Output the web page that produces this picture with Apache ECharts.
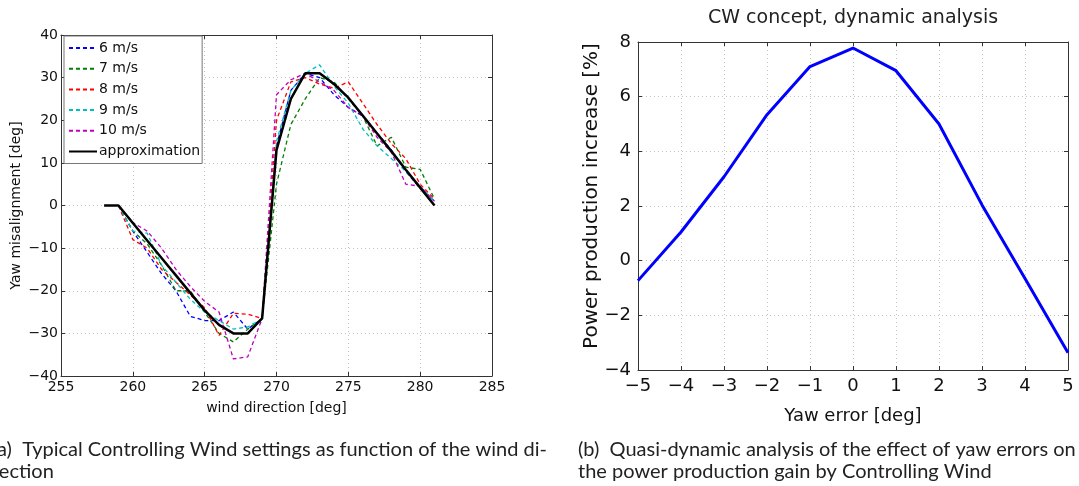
<!DOCTYPE html>
<html>
<head>
<meta charset="utf-8">
<script src="https://cdn.jsdelivr.net/npm/echarts@6/dist/echarts.min.js"></script>
<style>
  html, body { margin: 0; padding: 0; background: #fff; }
  #chart { width: 1079px; height: 486px; }
</style>
</head>
<body>
<div id="chart"></div>
<script>
// (a) yaw misalignment vs wind direction
const windDir = [259, 260, 261, 262, 263, 264, 265, 266, 267, 268, 269, 270, 271, 272, 273, 274, 275, 276, 277, 278, 279, 280, 281];
const ws6  = [0, -6, -11, -16, -20, -26, -27, -27, -25, -29, -26.5, 14, 27, 31, 30, 26, 23, 21, 17, 13, 8, 4, 1];
const ws7  = [0, -6, -9, -14, -20, -20, -25, -30, -32, -29, -26.5, 5, 19, 25, 30, 29, 25, 21, 14, 16, 9, 8.5, 1.5];
const ws8  = [0, -8, -10, -15, -18, -21, -24, -30.5, -25.3, -25.5, -26.5, 20, 29, 30, 28.5, 27.5, 29, 24, 19, 14.5, 11, 5, 1.5];
const ws9  = [0, -6, -6.5, -14, -18, -22, -25, -27, -29, -28.5, -26.5, 15, 27, 31, 33, 28, 24, 18, 14, 11, 8, 4.5, 1];
const ws10 = [0, -4, -6, -10, -15, -19, -22.5, -25, -36, -35.5, -26.5, 26, 29.5, 31, 29, 27, 23, 21, 16, 12.5, 5, 4.5, 1];
const approxDir  = [258, 259, 260, 261, 262, 263, 264, 265, 266, 267, 268, 269, 270, 271, 272, 273, 274, 275, 276, 277, 278, 279, 280, 281];
const approxVals = [0, 0, -4.1, -8.2, -12.3, -16.4, -20.5, -24.6, -28, -30, -30, -26.5, 13, 25, 31, 31, 28.5, 25.3, 21.1, 16.9, 12.7, 8.4, 4.2, 0];

// (b) power production increase vs yaw error
const yawErr = [-5, -4, -3, -2, -1, 0, 1, 2, 3, 4, 5];
const powerGain = [-0.73, 1.05, 3.07, 5.34, 7.1, 7.78, 6.95, 5.0, 2.04, -0.65, -3.37];

const minus = v => String(v).replace('-', '\u2212');
const pairs = (xs, ys) => xs.map((x, i) => [x, ys[i]]);

const font = 'DejaVu Sans';
const axisCol = '#333';
const gridLine = { show: true, lineStyle: { type: [1, 3], color: '#c4c4c4', width: 1 } };

function mainAxis(gi, pos, min, max, step, fs, margin, name, nameGap) {
  return {
    type: 'value', gridIndex: gi, position: pos, min: min, max: max, interval: step,
    axisLine: { show: true, onZero: false, lineStyle: { color: axisCol, width: 1 } },
    axisTick: { show: true, inside: true, length: 4, lineStyle: { color: axisCol } },
    axisLabel: { fontSize: fs, color: '#111', margin: margin, fontFamily: font, formatter: minus },
    splitLine: gridLine,
    name: name, nameLocation: 'middle', nameGap: nameGap,
    nameTextStyle: { fontSize: fs, color: '#111', fontFamily: font }
  };
}
function boxAxis(gi, pos, min, max, step) {
  return {
    type: 'value', gridIndex: gi, position: pos, min: min, max: max, interval: step,
    axisLine: { show: true, onZero: false, lineStyle: { color: axisCol, width: 1 } },
    axisTick: { show: true, inside: true, length: 4, lineStyle: { color: axisCol } },
    axisLabel: { show: false }, splitLine: { show: false }
  };
}
function dashed(name, data, color) {
  return {
    name: name, type: 'line', xAxisIndex: 0, yAxisIndex: 0, data: pairs(windDir, data),
    symbol: 'none', lineStyle: { color: color, width: 1.3, type: [4, 3] }, itemStyle: { color: color },
    z: 3
  };
}

const chart = echarts.init(document.getElementById('chart'));
chart.setOption({
  animation: false,
  grid: [
    { left: 61, top: 35, width: 431, height: 341 },
    { left: 638, top: 42, width: 430, height: 328 }
  ],
  xAxis: [
    mainAxis(0, 'bottom', 255, 285, 5, 14, 4, 'wind direction [deg]', 25),
    boxAxis(0, 'top', 255, 285, 5),
    mainAxis(1, 'bottom', -5, 5, 1, 18, 7, 'Yaw error [deg]', 37),
    boxAxis(1, 'top', -5, 5, 1)
  ],
  yAxis: [
    mainAxis(0, 'left', -40, 40, 10, 14, 3, 'Yaw misalignment [deg]', 38),
    boxAxis(0, 'right', -40, 40, 10),
    mainAxis(1, 'left', -4, 8, 2, 18, 7, '', 38),
    boxAxis(1, 'right', -4, 8, 2)
  ],
  legend: {
    orient: 'vertical', left: 64, top: 36,
    data: ['6 m/s', '7 m/s', '8 m/s', '9 m/s', '10 m/s', 'approximation'],
    backgroundColor: '#fff', borderColor: '#777', borderWidth: 1, borderRadius: 0,
    padding: [5, 2, 5, 4], itemWidth: 28, itemHeight: 12, itemGap: 6.7,
    itemStyle: { opacity: 0 },
    textStyle: { fontSize: 14, color: '#111', fontFamily: font, padding: [0, 0, 0, -3] }
  },
  graphic: [
    { type: 'text', left: 708, top: 9, style: { text: 'CW concept, dynamic analysis', fontSize: 19, fill: '#222', fontFamily: font } },
    { type: 'text', x: 592, y: 196, rotation: Math.PI / 2,
      style: { text: 'Power production increase [%]', fontSize: 20, fill: '#111', fontFamily: font, align: 'center', verticalAlign: 'middle' } },
    { type: 'text', left: -8, top: 439, style: { text: '(a)  Typical Controlling Wind settings as function of the wind di-\nrection', fontSize: 20, lineHeight: 22, fill: '#222', fontFamily: 'Lato' } },
    { type: 'text', left: 578, top: 439, style: { text: '(b)  Quasi-dynamic analysis of the effect of yaw errors on\nthe power production gain by Controlling Wind', fontSize: 20, lineHeight: 22, fill: '#222', fontFamily: 'Lato' } }
  ],
  series: [
    dashed('6 m/s', ws6, '#0000ff'),
    dashed('7 m/s', ws7, '#008000'),
    dashed('8 m/s', ws8, '#ff0000'),
    dashed('9 m/s', ws9, '#00bfbf'),
    dashed('10 m/s', ws10, '#bf00bf'),
    {
      name: 'approximation', type: 'line', xAxisIndex: 0, yAxisIndex: 0, data: pairs(approxDir, approxVals),
      symbol: 'none', lineStyle: { color: '#000', width: 2.5 }, itemStyle: { color: '#000' }, z: 4
    },
    {
      name: 'power', type: 'line', xAxisIndex: 2, yAxisIndex: 2, data: pairs(yawErr, powerGain),
      symbol: 'none', lineStyle: { color: '#0000ff', width: 3 }, itemStyle: { color: '#0000ff' }
    }
  ]
});
</script>
</body>
</html>
